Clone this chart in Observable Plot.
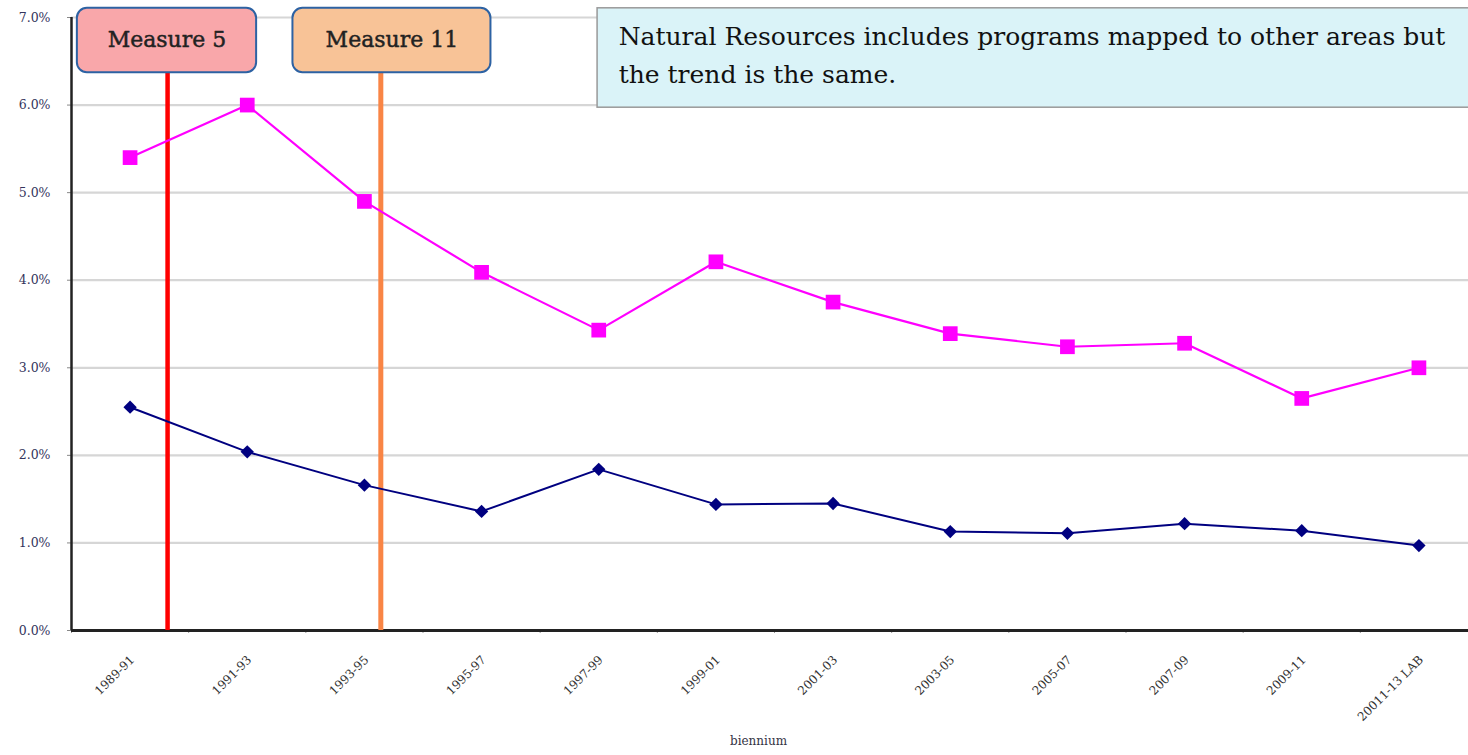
<!DOCTYPE html>
<html>
<head>
<meta charset="utf-8">
<script src="https://cdn.jsdelivr.net/npm/d3@7"></script>
<script src="https://cdn.jsdelivr.net/npm/@observablehq/plot@0.6"></script>
<style>
  html, body { margin: 0; padding: 0; background: #fff; }
  #chart svg { display: block; }
</style>
</head>
<body>
<div id="chart"></div>
<script>
// Categories (biennia)
const biennia = ["1989-91","1991-93","1993-95","1995-97","1997-99","1999-01","2001-03","2003-05","2005-07","2007-09","2009-11","20011-13 LAB"];
// Series values (percent)
const naturalResourcesAll = [5.40, 6.00, 4.90, 4.09, 3.43, 4.21, 3.75, 3.39, 3.24, 3.28, 2.65, 3.00];
const naturalResources    = [2.55, 2.04, 1.66, 1.36, 1.84, 1.44, 1.45, 1.13, 1.11, 1.22, 1.14, 0.97];
// Y tick values
const yTicks = [0, 1, 2, 3, 4, 5, 6, 7];
// Ballot measures (position in biennium index units)
const measureNames = ["Measure 5", "Measure 11"];
const measureAt    = [0.32, 2.14];
const noteText = "Natural Resources includes programs mapped to other areas but\nthe trend is the same.";

const idx = biennia.map((_, i) => i);
const pinkData = idx.map(i => ({i, v: naturalResourcesAll[i]}));
const navyData = idx.map(i => ({i, v: naturalResources[i]}));
const bounds = d3.range(-0.5, biennia.length, 1);
const measures = measureNames.map((name, k) => ({name, x: measureAt[k]}));
const measureStyle = [
  {line: "#ff0000", fill: "#f9a7aa", w: 4.5, x1: -0.45, x2: 1.08},
  {line: "#f98545", fill: "#f8c397", w: 5,   x1: 1.39,  x2: 3.08}
];

const serif = "DejaVu Serif";

const chart = Plot.plot({
  width: 1468,
  height: 755,
  marginLeft: 71,
  marginRight: -9,
  marginTop: 17,
  marginBottom: 125,
  style: {background: "#fff", fontFamily: serif},
  x: {type: "linear", domain: [-0.5, biennia.length - 0.5]},
  y: {domain: [0, 7]},
  marks: [
    Plot.gridY(yTicks, {stroke: "#d6d6d6", strokeOpacity: 1, strokeWidth: 2.2}),
    // y axis labels and ticks
    Plot.axisY(yTicks, {
      tickFormat: d => d.toFixed(1) + "%",
      tickSize: 4, tickPadding: 17, fontSize: 12.5, fill: "#34345c", stroke: null,
      label: null
    }),
    Plot.axisY(yTicks, {tickSize: 4, tickFormat: () => "", label: null, stroke: "#888"}),
    // x boundary ticks
    Plot.axisX(bounds, {tickSize: 3, tickFormat: () => "", label: null, stroke: "#999"}),
    // x labels
    Plot.text(idx, {
      x: d => d, frameAnchor: "bottom", text: d => biennia[d],
      rotate: -45, textAnchor: "end", dy: 30, dx: 5, fontSize: 12, fill: "#333"
    }),
    Plot.text(["biennium"], {
      x: (biennia.length - 1) / 2, frameAnchor: "bottom", dy: 114, dx: -16,
      fontSize: 12, fill: "#334"
    }),
    // axis lines
    Plot.ruleX([-0.5], {y1: 0, y2: 7, stroke: "#222", strokeWidth: 2.5}),
    Plot.ruleY([0], {stroke: "#222", strokeWidth: 3}),
    // measure lines
    Plot.ruleX(measures, {x: "x", y1: 0, y2: 6.37, stroke: (d, k) => measureStyle[k].line, strokeWidth: (d, k) => measureStyle[k].w}),
    // series
    Plot.line(pinkData, {x: "i", y: "v", stroke: "#ff00ff", strokeWidth: 2.2}),
    Plot.dot(pinkData, {x: "i", y: "v", symbol: "square", r: 8.3, fill: "#ff00ff", stroke: null}),
    Plot.line(navyData, {x: "i", y: "v", stroke: "#000080", strokeWidth: 2}),
    Plot.dot(navyData, {x: "i", y: "v", symbol: "diamond2", r: 6, fill: "#000080", stroke: null}),
    // measure boxes
    Plot.rect(measures, {
      x1: (d, k) => measureStyle[k].x1, x2: (d, k) => measureStyle[k].x2,
      y1: 6.37, y2: 7.105, fill: (d, k) => measureStyle[k].fill,
      stroke: "#2d62a3", strokeWidth: 2, rx: 10
    }),
    Plot.text(measures, {
      x: (d, k) => (measureStyle[k].x1 + measureStyle[k].x2) / 2, y: 6.74, text: "name",
      fontSize: 22, fill: "#222", stroke: "#222", strokeWidth: 0.45
    }),
    // note box
    Plot.rect([noteText], {x1: 3.99, x2: 12.2, y1: 5.97, y2: 7.105, fill: "#daf3f8", stroke: "#999", strokeWidth: 1.5}),
    Plot.text([noteText], {
      x: 4.17, y: 6.61, text: d => d, textAnchor: "start", lineAnchor: "middle",
      lineHeight: 1.52, fontSize: 25, fill: "#111"
    })
  ]
});
document.getElementById("chart").append(chart);
</script>
</body>
</html>
